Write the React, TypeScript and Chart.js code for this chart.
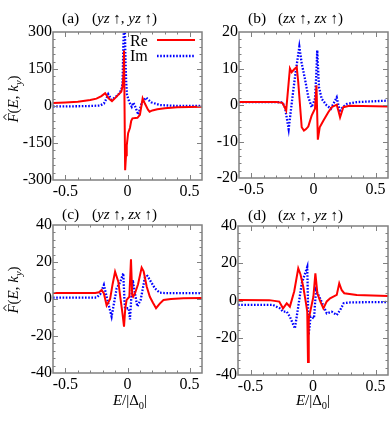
import React, { useEffect, useRef } from 'react';
import { Chart, registerables } from 'chart.js';
Chart.register(...registerables);

const W = 392;
const H = 425;
const E_MIN = -0.6;
const E_MAX = 0.6;
const E_TICKS = [-0.5, 0, 0.5];

// (a) (yz↑, yz↑)
const aReE = [-0.6, -0.5, -0.4, -0.3, -0.25, -0.21, -0.18, -0.15, -0.125, -0.1, -0.075, -0.05, -0.04, -0.032, -0.028, -0.019, -0.012, -0.006, 0.005, 0.02, 0.03, 0.04, 0.08, 0.1, 0.112, 0.122, 0.14, 0.165, 0.178, 0.2, 0.24, 0.3, 0.4, 0.6];
const aReF = [12, 14, 17, 24, 30, 40, 52, 30, 20, 32, 45, 58, 80, 130, 225, -260, -200, -160, -110, -88, -60, -50, -48, -36, 0, 31, 10, -15, -23, -18, -13, -9, -5, -3];
const aImE = [-0.6, -0.4, -0.3, -0.22, -0.19, -0.17, -0.155, -0.14, -0.128, -0.1, -0.075, -0.05, -0.04, -0.033, -0.028, -0.022, -0.016, -0.01, -0.004, 0.015, 0.034, 0.047, 0.06, 0.087, 0.114, 0.15, 0.19, 0.26, 0.4, 0.6];
const aImF = [-2, -1, 0, 2, 10, 30, 48, 35, 25, 35, 45, 65, 90, 250, 330, 330, 180, 90, 45, 15, -3, 14, 0, -35, 12, 34, 15, 4, 0, 0];
const aYTicks = [-300, -150, 0, 150, 300];

// (b) (zx↑, zx↑)
const bReE = [-0.6, -0.3, -0.25, -0.22, -0.19, -0.176, -0.155, -0.135, -0.123, -0.095, -0.077, -0.06, -0.042, -0.015, 0.012, 0.024, 0.035, 0.05, 0.079, 0.119, 0.147, 0.187, 0.2, 0.214, 0.24, 0.29, 0.6];
const bReF = [0.8, 0.8, 0.6, -1.5, 10, 9, 9.8, 10.4, 6.3, -6.1, -7, -6.6, -5.9, -2.9, -1, 5.4, -9.5, -6.1, -4.3, -2, -0.6, 0.1, -1.5, -3.4, -0.6, -0.2, -0.4];
const bImE = [-0.6, -0.3, -0.25, -0.23, -0.2, -0.17, -0.149, -0.114, -0.095, -0.069, -0.042, -0.015, 0.012, 0.022, 0.03, 0.044, 0.066, 0.106, 0.14, 0.187, 0.2, 0.214, 0.24, 0.27, 0.35, 0.6];
const bImF = [0.8, 0.8, 0.7, -0.6, -6.6, 2, 7.7, 16, 11.4, 7.2, 2.2, -0.6, 1.7, 8, 15, 4.9, 1.7, -0.1, -1, 2.1, 0, -1.5, -0.5, 0.3, 0.8, 1.2];
const bYTicks = [-20, -10, 0, 10, 20];

// (c) (yz↑, zx↑)
const cReE = [-0.6, -0.26, -0.23, -0.208, -0.19, -0.168, -0.14, -0.12, -0.1, -0.074, -0.055, -0.04, -0.028, -0.018, -0.007, 0.015, 0.028, 0.038, 0.045, 0.06, 0.085, 0.114, 0.13, 0.155, 0.18, 0.205, 0.23, 0.26, 0.29, 0.35, 0.45, 0.6];
const cReF = [3.3, 3.3, 3.6, 4.9, 3, -3.5, 0, 8, 14.8, 9.4, -0.5, -8, -15, -5, -0.5, 1.2, 21.5, 2, 1.2, 3.1, 8, 17, 15, 6.6, 1.2, -2, -5, -2.5, -0.5, 0, 0.4, 0.5];
const cImE = [-0.6, -0.25, -0.22, -0.19, -0.16, -0.128, -0.1, -0.087, -0.06, -0.034, -0.025, -0.02, 0.0, 0.01, 0.02, 0.03, 0.042, 0.06, 0.079, 0.106, 0.141, 0.16, 0.18, 0.22, 0.26, 0.3, 0.6];
const cImF = [0.7, 0.8, 2.5, 7.6, -1, -9.5, 1, 5.8, 9, 13.9, 0, -5, -5, -5, -11, 0, 10.3, 3, -4, -0.5, 12, 12.5, 10.3, 5.8, 3.4, 3.2, 3.2];
const cYTicks = [-40, -20, 0, 20, 40];

// (d) (zx↑, yz↑)
const dReE = [-0.6, -0.35, -0.27, -0.24, -0.21, -0.185, -0.15, -0.118, -0.1, -0.078, -0.056, -0.046, -0.04, -0.034, -0.019, 0.003, 0.019, 0.035, 0.055, 0.083, 0.11, 0.137, 0.19, 0.21, 0.23, 0.25, 0.35, 0.6];
const dReF = [0.3, 0.2, -0.6, -4.2, -1.5, -3.3, 5, 17.3, 14, 7.4, -1.5, -6, -33, -10, -5, 2, 14.6, 3.9, 0, -4.2, -0.5, 1.2, 3, 9.2, 5.5, 3.9, 3, 2.4];
const dImE = [-0.6, -0.32, -0.265, -0.24, -0.21, -0.185, -0.145, -0.118, -0.09, -0.046, -0.035, -0.019, 0.008, 0.024, 0.056, 0.11, 0.15, 0.19, 0.218, 0.245, 0.3, 0.6];
const dImF = [-2.4, -2.4, -4.2, -6, -6, -8.7, -15, -3.3, 9.2, 18, -18.5, -8.7, -9.6, 5.6, 1.2, -6.9, -6, -7.8, -5, -1.5, -1, -0.8];
const dYTicks = [-40, -20, 0, 20, 40];

const SERIES_NAMES = ['Re', 'Im'];
const PANEL_LETTERS = ['(a)', '(b)', '(c)', '(d)'];
const PANEL_ORBITALS = [['yz', 'yz'], ['zx', 'zx'], ['yz', 'zx'], ['zx', 'yz']];

const FONT = '"Liberation Serif", "Times New Roman", "DejaVu Serif", serif';
const RED = '#ff0000';
const BLUE = '#0000ff';
const FRAME = '#808080';
const DOT = [1.6, 1.6];

type Run = { t: string; it?: boolean; sub?: boolean; hat?: boolean };

function font(size: number, it?: boolean) {
  return `${it ? 'italic ' : ''}${size}px ${FONT}`;
}

function runsWidth(ctx: CanvasRenderingContext2D, runs: Run[], size: number) {
  let w = 0;
  for (const r of runs) {
    const s = r.sub ? size * 0.7 : size;
    ctx.font = font(s, r.it);
    w += ctx.measureText(r.t).width;
  }
  return w;
}

function drawRuns(ctx: CanvasRenderingContext2D, runs: Run[], x: number, y: number, size: number) {
  let px = x;
  ctx.fillStyle = '#000';
  ctx.textBaseline = 'alphabetic';
  ctx.textAlign = 'left';
  for (const r of runs) {
    const s = r.sub ? size * 0.7 : size;
    ctx.font = font(s, r.it);
    const w = ctx.measureText(r.t).width;
    ctx.fillText(r.t, px, r.sub ? y + size * 0.28 : y);
    if (r.hat) {
      ctx.save();
      ctx.strokeStyle = '#000';
      ctx.lineWidth = 1;
      ctx.beginPath();
      ctx.moveTo(px + w * 0.3, y - size * 0.8);
      ctx.lineTo(px + w * 0.6, y - size * 0.98);
      ctx.lineTo(px + w * 0.9, y - size * 0.8);
      ctx.stroke();
      ctx.restore();
    }
    px += w;
  }
}

type Panel = {
  reE: number[]; reF: number[]; imE: number[]; imF: number[];
  yTicks: number[]; yMinorDiv: number;
  box: [number, number, number, number];
  letter: string; orb: string[];
  titleX: number; titleY: number;
  yLabel?: [number, number];
  xLabel?: [number, number];
  legend?: boolean;
};

const PANELS: Panel[] = [
  { reE: aReE, reF: aReF, imE: aImE, imF: aImF, yTicks: aYTicks, yMinorDiv: 5, box: [53, 32, 202, 180], letter: PANEL_LETTERS[0], orb: PANEL_ORBITALS[0], titleX: 62, titleY: 23, yLabel: [13, 99], legend: true },
  { reE: bReE, reF: bReF, imE: bImE, imF: bImF, yTicks: bYTicks, yMinorDiv: 5, box: [239, 32, 388, 178], letter: PANEL_LETTERS[1], orb: PANEL_ORBITALS[1], titleX: 248, titleY: 23 },
  { reE: cReE, reF: cReF, imE: cImE, imF: cImF, yTicks: cYTicks, yMinorDiv: 5, box: [53, 225, 202, 373], letter: PANEL_LETTERS[2], orb: PANEL_ORBITALS[2], titleX: 62, titleY: 219, yLabel: [13, 290], xLabel: [130, 405] },
  { reE: dReE, reF: dReF, imE: dImE, imF: dImF, yTicks: dYTicks, yMinorDiv: 5, box: [238, 226, 388, 375], letter: PANEL_LETTERS[3], orb: PANEL_ORBITALS[3], titleX: 248, titleY: 220, xLabel: [313, 405] },
];

const Y_AXIS_W = 40;
const X_AXIS_H = 30;

function makeChart(canvas: HTMLCanvasElement, p: Panel) {
  const [L, T, R, B] = p.box;
  const yMin = p.yTicks[0];
  const yMax = p.yTicks[p.yTicks.length - 1];

  const decor = {
    id: 'decor' + p.letter,
    afterDraw(chart: any) {
      const ctx: CanvasRenderingContext2D = chart.ctx;
      const xs = chart.scales.x;
      const ys = chart.scales.y;
      const a = chart.chartArea;
      ctx.save();
      // ticks inside the frame
      ctx.strokeStyle = FRAME;
      ctx.lineWidth = 1;
      ctx.beginPath();
      const nx = 12;
      for (let i = 1; i < nx; i++) {
        const v = E_MIN + (i * (E_MAX - E_MIN)) / nx;
        const major = Math.abs(v / 0.5 - Math.round(v / 0.5)) < 1e-6;
        const len = major ? 5 : 2.5;
        const px = Math.round(xs.getPixelForValue(v)) + 0.5;
        ctx.moveTo(px, a.bottom); ctx.lineTo(px, a.bottom - len);
        ctx.moveTo(px, a.top); ctx.lineTo(px, a.top + len);
      }
      const ny = (p.yTicks.length - 1) * p.yMinorDiv;
      for (let i = 1; i < ny; i++) {
        const v = yMin + (i * (yMax - yMin)) / ny;
        const major = i % p.yMinorDiv === 0;
        const len = major ? 5 : 2.5;
        const py = Math.round(ys.getPixelForValue(v)) + 0.5;
        ctx.moveTo(a.left, py); ctx.lineTo(a.left + len, py);
        ctx.moveTo(a.right, py); ctx.lineTo(a.right - len, py);
      }
      ctx.stroke();
      // frame
      ctx.lineWidth = 1.5;
      ctx.strokeRect(a.left, a.top, a.right - a.left, a.bottom - a.top);

      // title
      drawRuns(ctx, [{ t: p.letter }], p.titleX, p.titleY, 15.5);
      const mathRuns: Run[] = [
        { t: '(' }, { t: p.orb[0], it: true }, { t: ' \u2191, ' },
        { t: p.orb[1], it: true }, { t: ' \u2191)' },
      ];
      drawRuns(ctx, mathRuns, p.titleX + 30, p.titleY, 15);

      // y label
      if (p.yLabel) {
        const runs: Run[] = [
          { t: 'F', it: true, hat: true }, { t: '(' }, { t: 'E', it: true }, { t: ', ' },
          { t: 'k', it: true }, { t: 'y', it: true, sub: true }, { t: ')' },
        ];
        const size = 15;
        const w = runsWidth(ctx, runs, size);
        ctx.save();
        ctx.translate(p.yLabel[0], p.yLabel[1]);
        ctx.rotate(-Math.PI / 2);
        drawRuns(ctx, runs, -w / 2, size * 0.35, size);
        ctx.restore();
      }
      // x label
      if (p.xLabel) {
        const runs: Run[] = [
          { t: 'E', it: true }, { t: '/|\u0394' }, { t: '0', sub: true }, { t: '|' },
        ];
        const size = 15;
        const w = runsWidth(ctx, runs, size);
        drawRuns(ctx, runs, p.xLabel[0] - w / 2, p.xLabel[1], size);
      }
      // legend
      if (p.legend) {
        ctx.font = font(16);
        ctx.fillStyle = '#000';
        ctx.textBaseline = 'middle';
        ctx.textAlign = 'left';
        ctx.fillText(SERIES_NAMES[0], 130, 42);
        ctx.fillText(SERIES_NAMES[1], 130, 57);
        ctx.lineWidth = 2;
        ctx.strokeStyle = RED;
        ctx.setLineDash([]);
        ctx.beginPath(); ctx.moveTo(157, 40); ctx.lineTo(195, 40); ctx.stroke();
        ctx.lineWidth = 2.3;
        ctx.strokeStyle = BLUE;
        ctx.setLineDash(DOT);
        ctx.beginPath(); ctx.moveTo(157, 56); ctx.lineTo(195, 56); ctx.stroke();
      }
      ctx.restore();
    },
  };

  const tickFont = { family: FONT, size: 16 };
  const fmt = (v: number) => (Math.abs(v) < 1e-9 ? '0' : String(v));

  return new Chart(canvas, {
    type: 'line',
    data: {
      datasets: [
        {
          label: SERIES_NAMES[0],
          data: p.reE.map((e, i) => ({ x: e, y: p.reF[i] })),
          borderColor: RED, borderWidth: 2, pointRadius: 0, tension: 0, fill: false,
        },
        {
          label: SERIES_NAMES[1],
          data: p.imE.map((e, i) => ({ x: e, y: p.imF[i] })),
          borderColor: BLUE, borderWidth: 2.3, borderDash: DOT, pointRadius: 0, tension: 0, fill: false,
        },
      ],
    },
    options: {
      responsive: false,
      animation: false,
      events: [],
      layout: {
        padding: { left: L - Y_AXIS_W, top: T, right: W - R, bottom: H - B - X_AXIS_H },
      },
      plugins: { legend: { display: false }, tooltip: { enabled: false }, title: { display: false } },
      scales: {
        x: {
          type: 'linear', min: E_MIN, max: E_MAX,
          afterBuildTicks: (s: any) => { s.ticks = E_TICKS.map((v) => ({ value: v })); },
          afterFit: (s: any) => { s.height = X_AXIS_H; },
          ticks: { font: tickFont, color: '#000', padding: 2, maxRotation: 0, autoSkip: false, callback: (v: any) => fmt(Number(v)) },
          grid: { display: false, drawTicks: false },
          border: { display: false },
        },
        y: {
          type: 'linear', min: yMin, max: yMax,
          afterBuildTicks: (s: any) => { s.ticks = p.yTicks.map((v) => ({ value: v })); },
          afterFit: (s: any) => { s.width = Y_AXIS_W; },
          ticks: { font: tickFont, color: '#000', padding: 1, autoSkip: false, callback: (v: any) => fmt(Number(v)) },
          grid: { display: false, drawTicks: false },
          border: { display: false },
        },
      },
    } as any,
    plugins: [decor],
  });
}

export default function App() {
  const refs = useRef<(HTMLCanvasElement | null)[]>([]);
  useEffect(() => {
    const charts = PANELS.map((p, i) => makeChart(refs.current[i] as HTMLCanvasElement, p));
    return () => charts.forEach((c) => c && c.destroy());
  }, []);
  return (
    <div style={{ position: 'absolute', left: 0, top: 0, width: W, height: H, background: '#fff' }}>
      {PANELS.map((_, i) => (
        <canvas
          key={i}
          ref={(el) => { refs.current[i] = el; }}
          width={W}
          height={H}
          style={{ position: 'absolute', left: 0, top: 0, width: W, height: H }}
        />
      ))}
    </div>
  );
}
